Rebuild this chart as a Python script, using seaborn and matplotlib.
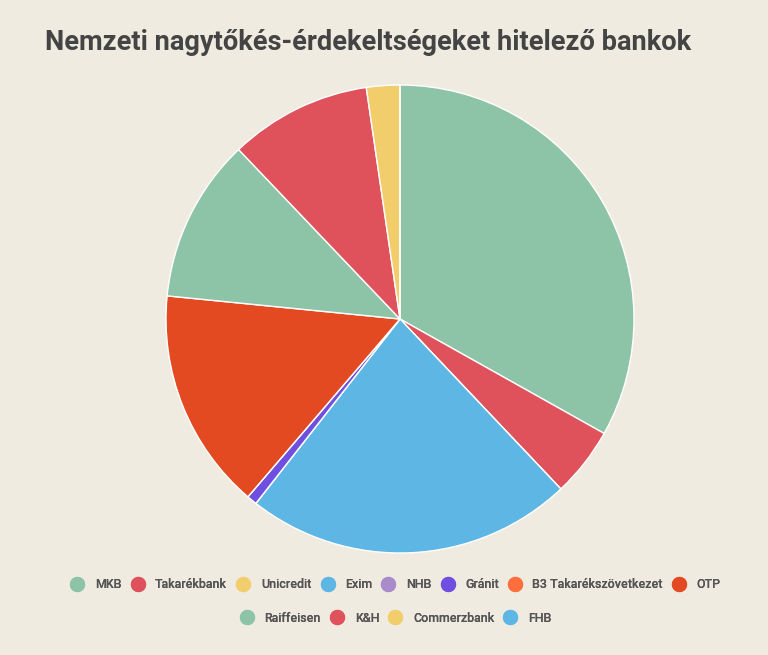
import matplotlib.pyplot as plt
import seaborn as sns
from matplotlib.lines import Line2D

# data
banks = ['MKB', 'Takarékbank', 'Unicredit', 'Exim', 'NHB', 'Gránit',
         'B3 Takarékszövetkezet', 'OTP', 'Raiffeisen', 'K&H', 'Commerzbank', 'FHB']
shares = [33.1, 4.8, 0.0, 22.6, 0.0, 0.7, 0.0, 15.3, 11.3, 9.8, 2.3, 0.0]
colors = ['#8dc3a7', '#e0525b', '#f2cd6c', '#5eb6e4', '#a98bcb', '#6f4fe0',
          '#ff6e3c', '#e44a21', '#8dc3a7', '#e0525b', '#f2cd6c', '#5eb6e4']
title = 'Nemzeti nagytőkés-érdekeltségeket hitelező bankok'

bg = '#f0ebe0'
sns.set_theme(style='white')
plt.rcParams['font.family'] = ['Roboto', 'DejaVu Sans']

fig = plt.figure(figsize=(7.68, 6.55), dpi=100, facecolor=bg)
ax = fig.add_axes([166 / 768, 102 / 655, 468 / 768, 468 / 655])
ax.set_facecolor(bg)

ax.pie(shares, colors=colors, startangle=90, counterclock=False, radius=1,
       wedgeprops=dict(edgecolor='white', linewidth=1.0))
ax.set_xlim(-1, 1)
ax.set_ylim(-1, 1)
ax.set_aspect('equal')
ax.axis('off')

fig.text(45 / 768, 1 - 42 / 655, title, fontsize=19.6, fontweight='bold',
         color='#444444', ha='left', va='center')

def make_handles(idx):
    return [Line2D([], [], marker='o', linestyle='none', markersize=11,
                   markerfacecolor=colors[i], markeredgecolor='none') for i in idx]

rows = [list(range(0, 8)), list(range(8, 12))]
ys = [1 - 585 / 655, 1 - 618 / 655]
for idx, y in zip(rows, ys):
    leg = fig.legend(make_handles(idx), [banks[i] for i in idx], loc='center',
                     bbox_to_anchor=(396 / 768, y), ncol=len(idx), frameon=False,
                     fontsize=9, handletextpad=0.9, columnspacing=0.8,
                     handlelength=1.0)
    for t in leg.get_texts():
        t.set_color('#555555')
        t.set_fontweight('medium')
    fig.add_artist(leg)

fig.savefig('out.png', dpi=100, facecolor=bg)
